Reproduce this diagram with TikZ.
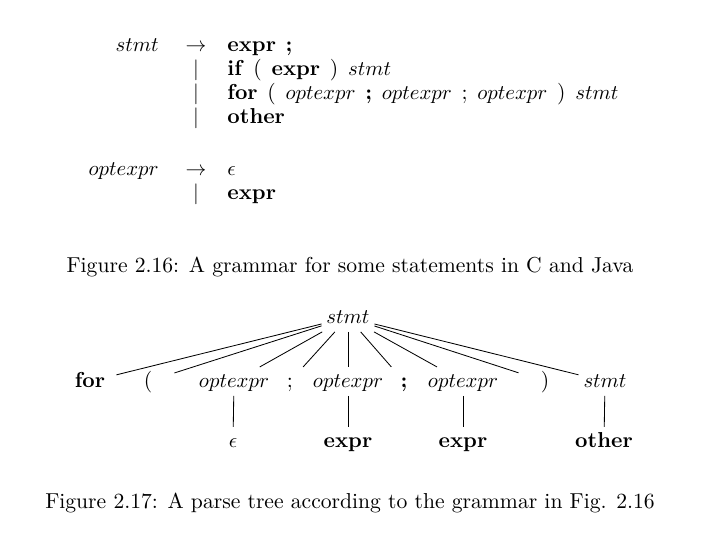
\documentclass[tikz,border=0pt]{standalone}
\usepackage{amssymb}

\begin{document}
\begin{tikzpicture}[x=0.0169cm, y=-0.0169cm,
    every node/.style={font=\fontsize{10.4}{12.5}\selectfont},
    gram/.style={inner sep=0pt},
    rhs/.style={gram, anchor=base west, execute at begin node={\spaceskip=0.45em\relax}},
    tnode/.style={anchor=base, inner xsep=2pt, inner ysep=3pt, minimum width=0.88cm,
                  text height=1.5ex, text depth=0.25ex},
    edge/.style={line width=0.4pt}]

    \useasboundingbox (0,0) rectangle (720,540);

    % Grammar for stmt
    \node (lhsA) at (159, 51) [gram, anchor=base east] {$stmt$};
    \node (toA) at (196, 51) [gram, anchor=base] {$\rightarrow$};
    \node (rA1) at (227, 51) [rhs] {\textbf{expr ;}};
    \node (barA2) at (196, 75) [gram, anchor=base] {$|$};
    \node (rA2) at (227, 75) [rhs] {\textbf{if} ( \textbf{expr} ) $stmt$};
    \node (barA3) at (196, 99) [gram, anchor=base] {$|$};
    \node (rA3) at (227, 99) [rhs] {\textbf{for} ( $optexpr$ \textbf{;} $optexpr$ ; $optexpr$ ) $stmt$};
    \node (barA4) at (196, 123) [gram, anchor=base] {$|$};
    \node (rA4) at (227, 123) [rhs] {\textbf{other}};

    % Grammar for optexpr
    \node (lhsB) at (159, 175) [gram, anchor=base east] {$optexpr$};
    \node (toB) at (196, 175) [gram, anchor=base] {$\rightarrow$};
    \node (rB1) at (227, 175) [rhs] {$\epsilon$};
    \node (barB2) at (196, 199) [gram, anchor=base] {$|$};
    \node (rB2) at (227, 199) [rhs] {\textbf{expr}};

    \node (capA) at (350, 272) [gram, anchor=base] {Figure 2.16: A grammar for some statements in C and Java};

    % Parse tree nodes
    \node (root) at (348, 323) [tnode] {$stmt$};
    \node (kfor) at (90, 387) [tnode] {\textbf{for}};
    \node (lpar) at (148, 387) [tnode] {(};
    \node (optA) at (234, 387) [tnode] {$optexpr$};
    \node (semA) at (290, 387) [tnode] {;};
    \node (optB) at (348, 387) [tnode] {$optexpr$};
    \node (semB) at (404, 387) [tnode] {\textbf{;}};
    \node (optC) at (463, 387) [tnode] {$optexpr$};
    \node (rpar) at (545, 387) [tnode] {)};
    \node (body) at (605, 387) [tnode] {$stmt$};

    \node (eps) at (233, 447) [tnode] {$\epsilon$};
    \node (exB) at (348, 447) [tnode] {\textbf{expr}};
    \node (exC) at (463, 447) [tnode] {\textbf{expr}};
    \node (oth) at (604, 447) [tnode] {\textbf{other}};

    % Tree edges
    \foreach \kid in {kfor, lpar, optA, semA, optB, semB, optC, rpar, body}
        \draw[edge] (root) -- (\kid);
    \draw[edge] (optA) -- (eps);
    \draw[edge] (optB) -- (exB);
    \draw[edge] (optC) -- (exC);
    \draw[edge] (body) -- (oth);

    \node (capB) at (350, 508) [gram, anchor=base] {Figure 2.17: A parse tree according to the grammar in Fig. 2.16};
\end{tikzpicture}
\end{document}
